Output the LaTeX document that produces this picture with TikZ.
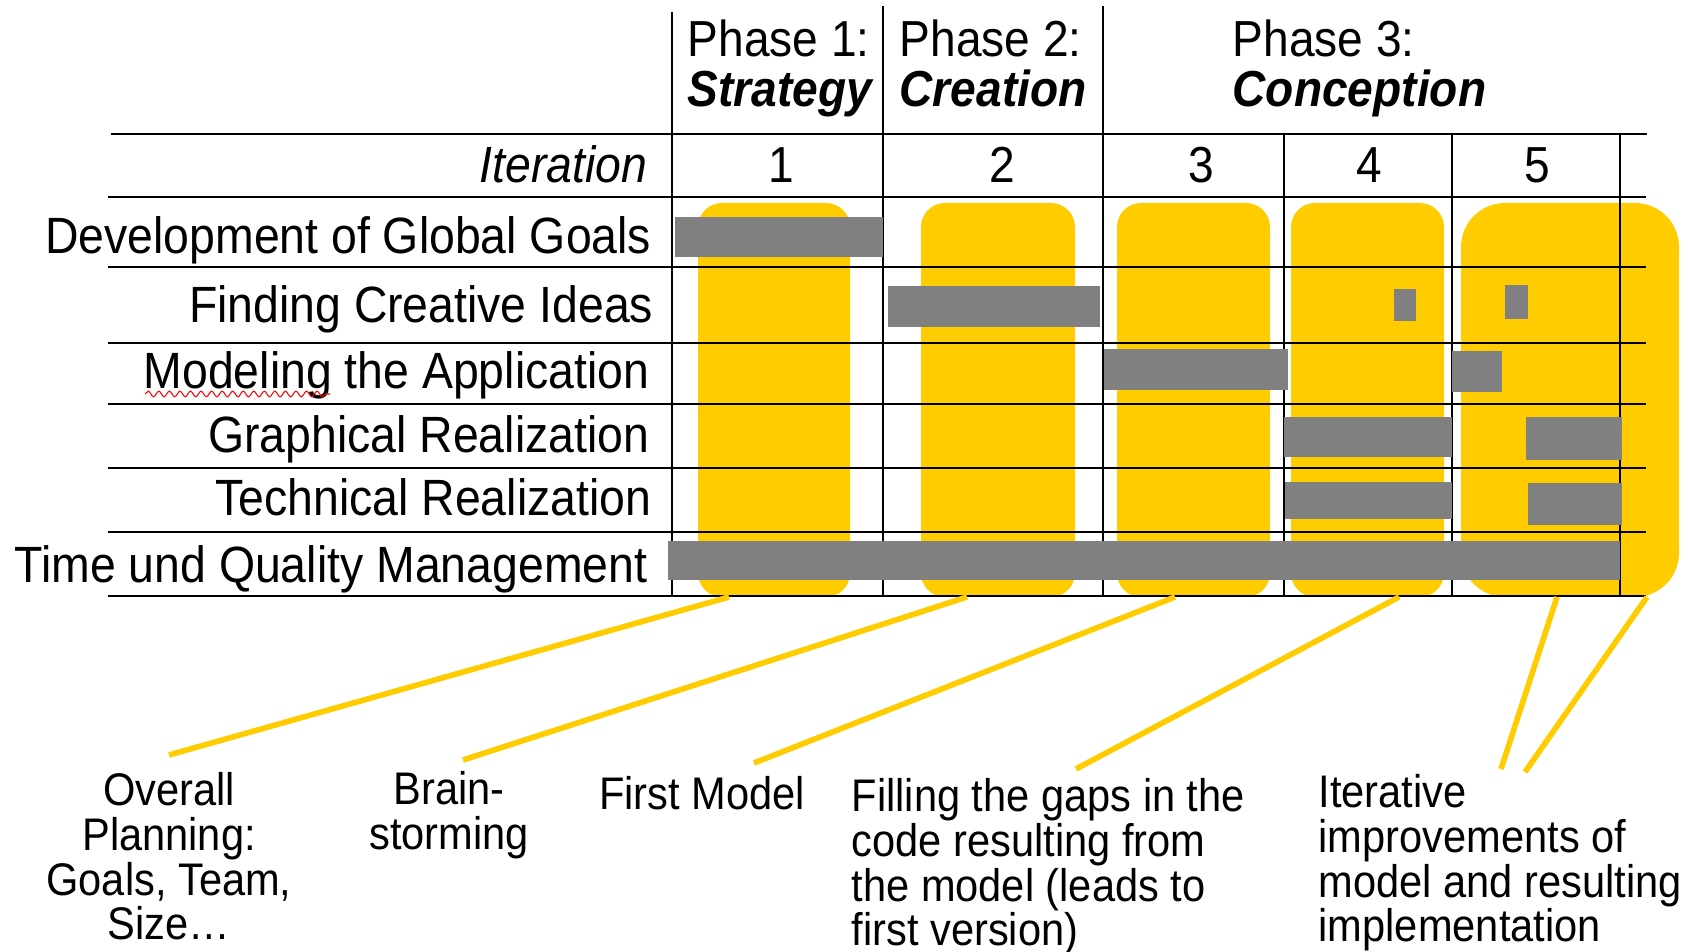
\documentclass[tikz,border=0pt]{standalone}
\usepackage{fontspec}
\setmainfont{Liberation Sans}[FakeStretch=0.91]
\usetikzlibrary{decorations.pathmorphing}
\definecolor{gold}{HTML}{FFCC00}
\definecolor{bargray}{HTML}{808080}

\begin{document}
\begin{tikzpicture}[x=0.01cm,y=-0.01cm,
    grid/.style={line width=0.55pt},
    itbox/.style={fill=gold,rounded corners=0.24cm},
    bar/.style={fill=bargray},
    lead/.style={draw=gold,line width=1.6pt},
    rowlabel/.style={anchor=base east,inner sep=0pt,font=\fontsize{14.5}{17}\selectfont},
    head/.style={anchor=base west,inner sep=0pt,font=\fontsize{14.4}{17}\selectfont},
    note/.style={anchor=north,inner sep=0pt,font=\fontsize{13}{12.7}\selectfont}]
  \useasboundingbox (0,0) rectangle (1690,952);

  % iterations
  \fill[itbox] (698,203) rectangle (850,597);
  \fill[itbox] (921,203) rectangle (1075,597);
  \fill[itbox] (1117,203) rectangle (1270,597);
  \fill[itbox] (1291,203) rectangle (1444,597);
  \fill[itbox,rounded corners=0.44cm] (1461,203) rectangle (1679,597);

  % table
  \draw[grid] (111,134) -- (1647,134);
  \foreach \y in {197,267,343,404,468,532,596}
    \draw[grid] (108,\y) -- (1646,\y);
  \draw[grid] (672,12) -- (672,596);
  \foreach \x in {883,1103}
    \draw[grid] (\x,6) -- (\x,596);
  \foreach \x in {1284,1452,1620}
    \draw[grid] (\x,134) -- (\x,596);

  % activities
  \fill[bar] (675,217) rectangle (883,257);
  \fill[bar] (888,286) rectangle (1100,327);
  \fill[bar] (1394,289) rectangle (1416,321);
  \fill[bar] (1505,285) rectangle (1528,319);
  \fill[bar] (1104,349) rectangle (1288,390);
  \fill[bar] (1452,351) rectangle (1502,392);
  \fill[bar] (1284,417) rectangle (1452,457);
  \fill[bar] (1526,417) rectangle (1622,460);
  \fill[bar] (1285,482) rectangle (1452,519);
  \fill[bar] (1528,483) rectangle (1622,525);
  \fill[bar] (668,541) rectangle (1620,580);

  % header
  \foreach \n/\x/\name in {1/687/Strategy,2/899/Creation,3/1232/Conception} {
    \node[head] (ph\n) at (\x,57) {Phase \n:};
    \node[head] (pn\n) at (\x,107) {\textbf{\textit{\name}}};
  }
  \node[rowlabel] (iter) at (648,183) {\textit{Iteration}};
  \foreach \n/\x in {1/781,2/1002,3/1201,4/1369,5/1537}
    \node[head,anchor=base] (it\n) at (\x,183) {\n};

  % rows
  \node[rowlabel] (goals) at (652,254) {Development of Global Goals};
  \node[rowlabel] (ideas) at (654,323) {Finding Creative Ideas};
  \node[rowlabel] (model) at (650,389) {Modeling the Application};
  \node[rowlabel] (graph) at (650,453) {Graphical Realization};
  \node[rowlabel] (tech) at (652,516) {Technical Realization};
  \node[rowlabel] (tqm) at (648,583) {Time und Quality Management};
  \draw[red,line width=0.3pt,decorate,decoration={snake,segment length=3,amplitude=0.8}]
    (145,394) -- (330,394);

  % notes below
  \node[note,align=center] (plan) at (169,772) {Overall\\Planning:\\Goals, Team,\\Size\dots};
  \node[note,align=center] (brain) at (449,771) {Brain-\\storming};
  \node[note] (first) at (702,776) {First Model};
  \node[note,anchor=north west,align=left] (gaps) at (851,778)
    {Filling the gaps in the\\code resulting from\\the model (leads to\\first version)};
  \node[note,anchor=north west,align=left] (impr) at (1318,774)
    {Iterative\\improvements of\\model and resulting\\implementation};

  \coordinate (b1) at (729,597);  \coordinate (t1) at (169,755);
  \coordinate (b2) at (967,597);  \coordinate (t2) at (463,760);
  \coordinate (b3) at (1175,597); \coordinate (t3) at (754,763);
  \coordinate (b4) at (1399,597); \coordinate (t4) at (1076,769);
  \coordinate (b5) at (1557,597); \coordinate (t5) at (1501,769);
  \coordinate (b6) at (1647,597); \coordinate (t6) at (1525,772);
  \foreach \i in {1,...,6}
    \draw[lead] (b\i) -- (t\i);
\end{tikzpicture}
\end{document}
